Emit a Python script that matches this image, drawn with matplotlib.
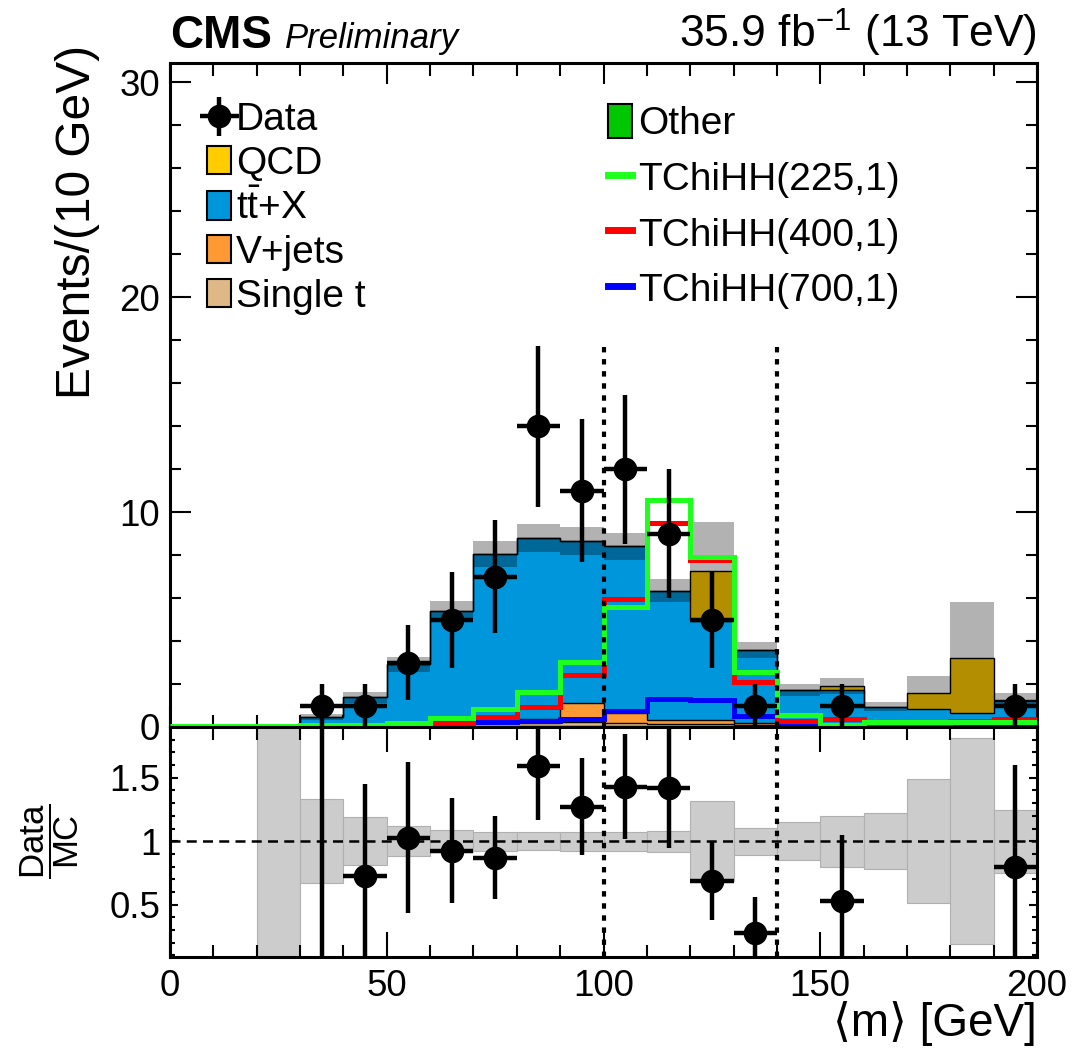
import numpy as np
import matplotlib
matplotlib.use("Agg")
import matplotlib.pyplot as plt
from matplotlib.patches import Patch
from matplotlib.lines import Line2D
from matplotlib.ticker import MultipleLocator, FixedLocator

plt.rcParams['font.family'] = ['Liberation Sans', 'DejaVu Sans']
plt.rcParams['mathtext.fontset'] = 'custom'
plt.rcParams['mathtext.rm'] = 'Liberation Sans'
plt.rcParams['mathtext.it'] = 'Liberation Sans:italic'
plt.rcParams['mathtext.bf'] = 'Liberation Sans:bold'

# ---------------- data (20 bins of 10 GeV, 0-200) ----------------
bin_edges = np.arange(0, 201, 10)
other    = [0, 0, 0, 0, 0.02, 0.03, 0.05, 0.05, 0.05, 0.05, 0.05, 0.03, 0.03, 0.03, 0.03, 0.02, 0.02, 0.02, 0.02, 0.02]
single_t = [0, 0, 0, 0.02, 0.05, 0.08, 0.10, 0.12, 0.15, 0.20, 0.15, 0.10, 0.10, 0.05, 0.05, 0.05, 0.03, 0.03, 0.03, 0.05]
vjets    = [0, 0, 0, 0, 0.02, 0.03, 0.08, 0.12, 0.15, 0.85, 0.45, 0.20, 0.20, 0.10, 0.05, 0.05, 0.03, 0.05, 0.10, 0.05]
ttx      = [0, 0, 0.02, 0.45, 1.29, 2.78, 5.17, 7.76, 8.45, 7.55, 7.75, 6.02, 4.62, 3.40, 1.59, 1.58, 0.87, 0.76, 0.50, 1.08]
qcd      = [0, 0, 0, 0, 0, 0, 0, 0, 0, 0, 0, 0, 2.30, 0, 0, 0.20, 0, 0.74, 2.55, 0.05]
mc_unc   = [0, 0, 0.03, 0.155, 0.26, 0.35, 0.48, 0.60, 0.64, 0.65, 0.62, 0.52, 2.30, 0.38, 0.26, 0.38, 0.21, 0.78, 2.60, 0.31]
sig225   = [0.05, 0.05, 0.05, 0.08, 0.08, 0.20, 0.40, 0.82, 1.61, 3.04, 5.60, 10.57, 7.89, 2.58, 0.56, 0.10, 0.22, 0.22, 0.22, 0.22]
sig400   = [0.02, 0.02, 0.02, 0.02, 0.05, 0.10, 0.20, 0.45, 0.95, 2.42, 5.95, 9.49, 7.75, 2.11, 0.28, 0.35, 0.10, 0.10, 0.30, 0.35]
sig700   = [0, 0, 0, 0, 0, 0.02, 0.05, 0.25, 0.30, 0.35, 0.75, 1.30, 1.25, 0.50, 0.05, 0.03, 0.03, 0.03, 0.03, 0.03]
data     = [0, 0, 0, 1, 1, 3, 5, 7, 14, 11, 12, 9, 5, 1, 0, 1, 0, 0, 0, 1]
window   = [100, 140]

components = [("Other", other, "#00C800"),
              ("Single t", single_t, "#DEB887"),
              ("V+jets", vjets, "#FF9933"),
              (r"$\mathrm{t\bar{t}}$+X", ttx, "#0096DB"),
              ("QCD", qcd, "#FFCC00")]
signals = [("TChiHH(700,1)", sig700, "#0000FF"),
           ("TChiHH(400,1)", sig400, "#FF0000"),
           ("TChiHH(225,1)", sig225, "#1EFF1E")]

W, H = 1083, 1058
fig = plt.figure(figsize=(W / 100, H / 100), dpi=100)
L, R = 170, 1037
ax = fig.add_axes([L / W, 1 - 727 / H, (R - L) / W, (727 - 63) / H])
rax = fig.add_axes([L / W, 1 - 956.7 / H, (R - L) / W, (956.7 - 727) / H])

edges = bin_edges
centers = 0.5 * (edges[1:] + edges[:-1])

# ---------------- stack ----------------
bottom = np.zeros(len(centers))
for name, vals, col in components:
    top = bottom + np.asarray(vals)
    ax.stairs(top, edges, baseline=bottom, fill=True, color=col, lw=0, zorder=2)
    ax.stairs(top, edges, baseline=None, color='k', lw=1.0, zorder=2.1)
    bottom = top
total = bottom
unc = np.asarray(mc_unc)
ax.stairs(total + unc, edges, baseline=total - unc, fill=True, color='k', alpha=0.3, lw=0, zorder=3)

for name, vals, col in signals:
    ax.stairs(vals, edges, baseline=None, color=col, lw=3.6, zorder=4)

d = np.asarray(data, dtype=float)
m = d > 0
dat = ax.errorbar(centers[m], d[m], yerr=np.sqrt(d[m]), xerr=5, fmt='o', color='k', ms=16,
                  elinewidth=3.2, capsize=0, zorder=6)

for xv in window:
    ax.plot([xv, xv], [0, 17.8], color='k', lw=3.0, ls=(0, (1.3, 1.6)), zorder=7)

ax.set_xlim(0, 200)
ax.set_ylim(0, 30.9)

# ---------------- ratio ----------------
ok = total > 0
rel = np.where(ok, unc / np.where(ok, total, 1), 0)
lo = np.where(ok, 1 - rel, 1)
hi = np.where(ok, 1 + rel, 1)
rax.bar(centers[ok], (hi - lo)[ok], bottom=lo[ok], width=10, color='#CCCCCC',
        edgecolor='#B0B0B0', linewidth=0.8, zorder=1)
rax.axhline(1, color='k', lw=1.8, ls=(0, (4, 2.5)), zorder=2)
mr = m & ok
ratio = d[mr] / total[mr]
rerr = np.sqrt(d[mr]) / total[mr]
rax.errorbar(centers[mr], ratio, yerr=rerr, xerr=5, fmt='o', color='k', ms=16,
             elinewidth=3.2, capsize=0, zorder=6)
for xv in window:
    rax.axvline(xv, color='k', lw=3.0, ls=(0, (1.3, 1.6)), zorder=7)
rax.set_xlim(0, 200)
rax.set_ylim(0.09, 1.9)

# ---------------- axes styling ----------------
for a in (ax, rax):
    for s in a.spines.values():
        s.set_linewidth(2.2)
    a.tick_params(which='both', direction='in', top=True, right=True, width=1.5,
                  labelsize=26.5, pad=7)
    a.xaxis.set_major_locator(FixedLocator([0, 50, 100, 150, 200]))
    a.xaxis.set_minor_locator(MultipleLocator(10))

ax.yaxis.set_major_locator(FixedLocator([0, 10, 20, 30]))
ax.yaxis.set_minor_locator(MultipleLocator(2))
ax.tick_params(axis='x', which='major', length=15)
ax.tick_params(axis='x', which='minor', length=9)
ax.tick_params(axis='y', which='major', length=15)
ax.tick_params(axis='y', which='minor', length=8)
ax.tick_params(axis='x', labelbottom=False)

rax.yaxis.set_major_locator(FixedLocator([0.5, 1.0, 1.5]))
rax.yaxis.set_minor_locator(MultipleLocator(0.1))
rax.set_yticklabels(['0.5', '1', '1.5'])
rax.tick_params(axis='x', which='major', length=18, pad=9)
rax.tick_params(axis='x', which='minor', length=9)
rax.tick_params(axis='y', which='major', length=5.5)
rax.tick_params(axis='y', which='minor', length=3.5)

# ---------------- labels ----------------
fig.text(78 / W, 1 - 45 / H, 'Events/(10 GeV)', rotation=90, ha='center', va='top', fontsize=34.5)
fig.text(1037 / W, 1 - 1036 / H, '⟨m⟩ [GeV]', ha='right', va='baseline', fontsize=33)
fig.text(50 / W, 1 - 841 / H, r'$\dfrac{\mathrm{Data}}{\mathrm{MC}}$', rotation=90,
         ha='center', va='center', fontsize=25)
fig.text(170 / W, 1 - 48 / H, 'CMS', weight='bold', fontsize=33, va='baseline')
fig.text(285 / W, 1 - 48 / H, 'Preliminary', style='italic', fontsize=25, va='baseline')
fig.text(1037 / W, 1 - 48 / H, r'35.9 fb$^{\mathregular{-1}}$ (13 TeV)', ha='right', va='baseline', fontsize=32)

# ---------------- legends ----------------
comp = {n: c for n, v, c in components}
h1 = [dat] + [Patch(facecolor=comp[n], edgecolor='k', lw=1.5) for n in
              ["QCD", r"$\mathrm{t\bar{t}}$+X", "V+jets", "Single t"]]
l1 = ["Data", "QCD", r"$\mathrm{t\bar{t}}$+X", "V+jets", "Single t"]
leg1 = ax.legend(h1, l1, loc='upper left', bbox_to_anchor=((207 - L) / (R - L), (727 - 102) / 664),
                 frameon=False, fontsize=28, handlelength=0.62, handleheight=0.75,
                 handletextpad=0.13, labelspacing=0.2, borderpad=0, borderaxespad=0)
ax.add_artist(leg1)
sigc = {n: c for n, v, c in signals}
h2 = [Patch(facecolor=comp["Other"], edgecolor='k', lw=1.5)] + \
     [Line2D([], [], color=sigc[n], lw=5) for n in ["TChiHH(225,1)", "TChiHH(400,1)", "TChiHH(700,1)"]]
l2 = ["Other", "TChiHH(225,1)", "TChiHH(400,1)", "TChiHH(700,1)"]
leg2 = ax.legend(h2, l2, loc='upper left', bbox_to_anchor=((608 - L) / (R - L), (727 - 104) / 664),
                 frameon=False, fontsize=28, handlelength=0.62, handleheight=0.98,
                 handletextpad=0.15, labelspacing=0.44, borderpad=0, borderaxespad=0)

fig.savefig('out.png', dpi=100)
